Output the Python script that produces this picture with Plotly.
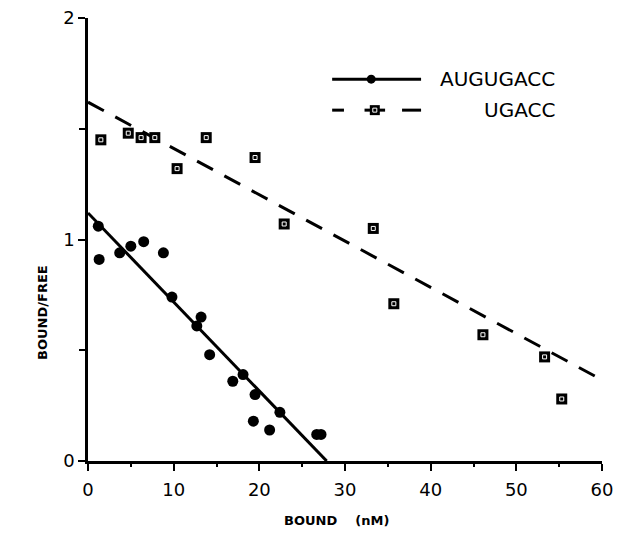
import plotly.graph_objects as go

# ---- data ----
aug_x = [1.2, 1.3, 3.7, 5.0, 6.5, 8.8, 9.8, 12.7, 13.2, 14.2, 16.9, 18.1, 19.5, 19.3, 21.2, 22.4, 26.7, 27.2]
aug_y = [1.06, 0.91, 0.94, 0.97, 0.99, 0.94, 0.74, 0.61, 0.65, 0.48, 0.36, 0.39, 0.30, 0.18, 0.14, 0.22, 0.12, 0.12]
aug_fit = {"intercept": 1.12, "slope": -0.0402}

uga_x = [1.5, 4.7, 6.2, 7.8, 10.4, 13.8, 19.5, 22.9, 33.3, 35.7, 46.1, 53.3, 55.3]
uga_y = [1.45, 1.48, 1.46, 1.46, 1.32, 1.46, 1.37, 1.07, 1.05, 0.71, 0.57, 0.47, 0.28]
uga_fit = {"intercept": 1.62, "slope": -0.0209}

series_names = ["AUGUGACC", "UGACC"]
x_ticks = [0, 10, 20, 30, 40, 50, 60]
y_ticks = [0, 1, 2]

FONT = "DejaVu Sans"

fig = go.Figure()

# fit lines
aug_end = -aug_fit["intercept"] / aug_fit["slope"]
fig.add_trace(go.Scatter(
    x=[0, aug_end],
    y=[aug_fit["intercept"], aug_fit["intercept"] + aug_fit["slope"] * aug_end],
    mode="lines", line=dict(color="black", width=3), showlegend=False, hoverinfo="skip"))
fig.add_trace(go.Scatter(
    x=[0, 60],
    y=[uga_fit["intercept"], uga_fit["intercept"] + uga_fit["slope"] * 60],
    mode="lines", line=dict(color="black", width=3, dash="18px,13px"), showlegend=False, hoverinfo="skip"))

# points
circle_marker = dict(symbol="circle", size=11, color="black")
square_outer = dict(symbol="square", size=11, color="black")
square_inner = dict(symbol="square-open", size=4, color="white", line=dict(color="white", width=1))
fig.add_trace(go.Scatter(x=aug_x, y=aug_y, mode="markers", marker=circle_marker,
                         name=series_names[0], showlegend=False, cliponaxis=False))
fig.add_trace(go.Scatter(x=uga_x, y=uga_y, mode="markers", marker=square_outer,
                         name=series_names[1], showlegend=False, cliponaxis=False))
fig.add_trace(go.Scatter(x=uga_x, y=uga_y, mode="markers", marker=square_inner,
                         showlegend=False, cliponaxis=False, hoverinfo="skip"))

# ---- manual legend on an overlay paper-like axis ----
lx0, lx1 = 0.475, 0.648
r1, r2 = 0.862, 0.792
fig.add_trace(go.Scatter(x=[lx0, lx1], y=[r1, r1], mode="lines", line=dict(color="black", width=3),
                         xaxis="x2", yaxis="y2", showlegend=False, hoverinfo="skip"))
fig.add_trace(go.Scatter(x=[0.551], y=[r1], mode="markers", marker=dict(symbol="circle", size=9, color="black"),
                         xaxis="x2", yaxis="y2", showlegend=False, hoverinfo="skip"))
for seg in ([lx0, 0.498], [0.538, 0.578], [0.611, lx1]):
    fig.add_trace(go.Scatter(x=seg, y=[r2, r2], mode="lines", line=dict(color="black", width=3),
                             xaxis="x2", yaxis="y2", showlegend=False, hoverinfo="skip"))
fig.add_trace(go.Scatter(x=[0.558], y=[r2], mode="markers", marker=dict(symbol="square", size=10, color="black"),
                         xaxis="x2", yaxis="y2", showlegend=False, hoverinfo="skip"))
fig.add_trace(go.Scatter(x=[0.558], y=[r2], mode="markers", marker=square_inner,
                         xaxis="x2", yaxis="y2", showlegend=False, hoverinfo="skip"))

annotations = [
    dict(x=0.912, y=r1, xref="paper", yref="paper", text=series_names[0], showarrow=False,
         xanchor="right", yanchor="middle", font=dict(family=FONT, size=20, color="black")),
    dict(x=0.912, y=r2, xref="paper", yref="paper", text=series_names[1], showarrow=False,
         xanchor="right", yanchor="middle", font=dict(family=FONT, size=20, color="black")),
    dict(x=0.484, y=-0.135, xref="paper", yref="paper", text="<b>BOUND\u00a0\u00a0\u00a0\u00a0(nM)</b>",
         showarrow=False, xanchor="center", yanchor="middle", font=dict(family=FONT, size=13, color="black")),
    dict(x=-0.09, y=0.336, xref="paper", yref="paper", text="<b>BOUND/FREE</b>", textangle=-90,
         showarrow=False, xanchor="center", yanchor="middle", font=dict(family=FONT, size=13, color="black")),
]

axis_common = dict(showgrid=False, zeroline=False, showline=True, linecolor="black", linewidth=2.5,
                   ticks="outside", tickcolor="black", tickwidth=2, automargin=False,
                   tickfont=dict(family=FONT, size=18, color="black"))

# page body has an 8px default margin, so the figure is 8px smaller than the window
fig.update_layout(
    width=616, height=533,
    margin=dict(l=80, r=22, t=10, b=80, autoexpand=False),
    paper_bgcolor="white", plot_bgcolor="white",
    showlegend=False,
    annotations=annotations,
    xaxis=dict(range=[0, 60], tickvals=x_ticks, ticklen=7, ticklabelstandoff=4,
               minor=dict(tickvals=[5, 15, 25, 35, 45, 55], ticklen=3, tickwidth=2, tickcolor="black", ticks="outside"),
               **axis_common),
    yaxis=dict(range=[0, 2], tickvals=y_ticks, ticklen=7, ticklabeloverflow="allow",
               minor=dict(tickvals=[0.5, 1.5], ticklen=6, tickwidth=2, tickcolor="black", ticks="outside"),
               **axis_common),
    xaxis2=dict(overlaying="x", range=[0, 1], visible=False),
    yaxis2=dict(overlaying="y", range=[0, 1], visible=False),
)

fig.write_html("out.html")
